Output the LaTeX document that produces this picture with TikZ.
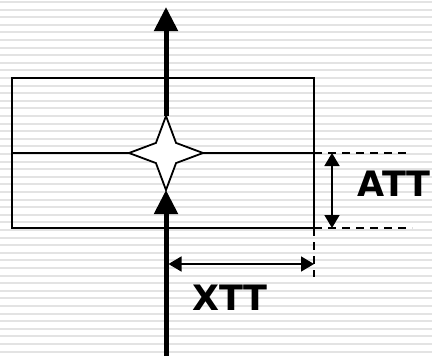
\documentclass[tikz,border=0pt]{standalone}
\usepackage{fontspec}
\setmainfont{DejaVu Sans}
\usepackage{tikz}
\usetikzlibrary{arrows.meta,shapes.geometric}

\begin{document}
\begin{tikzpicture}[x=1pt, y=-1pt,
  font=\fontsize{35}{40}\selectfont\bfseries,
  stripe/.style={fill=black!11},
  thin/.style={line width=1.8pt},
  dim/.style={line width=1.8pt, dash pattern=on 8pt off 6pt},
  axis/.style={line width=5pt, -{Triangle[width=23pt,length=24pt]}},
  meas/.style={line width=1.6pt, {Triangle[width=15pt,length=13pt]}-{Triangle[width=15pt,length=13pt]}},
  lab/.style={anchor=base west, inner sep=0pt}]
\useasboundingbox (0,0) rectangle (432,356);
% striped backdrop
\foreach \k in {0,...,46}
  \fill[stripe] (0,1+7.6*\k) rectangle (432,3+7.6*\k);
\node[draw, thin, minimum width=302pt, minimum height=150pt, inner sep=0pt, outer sep=0pt] (box) at (163,153) {};
\draw[thin] (box.west) -- (box.east);
\node[star, star points=4, star point ratio=2.6, minimum size=74pt, inner sep=0pt, outer sep=0pt,
      draw, thin, fill=white] (star) at (166,153) {};
\coordinate (top) at (166,7);
\coordinate (bot) at (166,356);
\draw[axis] (star.north) -- (top);
\draw[axis] (bot) -- (star.south);
% dimension lines
\coordinate (a1) at (407,153);
\coordinate (a2) at (412,228);
\coordinate (x1) at (314,277);
\draw[dim] (box.east) -- (a1);
\draw[dim] (box.south east) -- (a2);
\draw[dim] (box.south east) -- (x1);
\coordinate (m1) at (332,153);
\coordinate (m2) at (332,228);
\draw[meas] (m1) -- (m2);
\coordinate (n1) at (168.5,264);
\coordinate (n2) at (314,264);
\draw[meas] (n1) -- (n2);
\node[lab] (att) at (357.5,196) {ATT};
\node[lab] (xtt) at (192,310) {XTT};
\end{tikzpicture}
\end{document}
